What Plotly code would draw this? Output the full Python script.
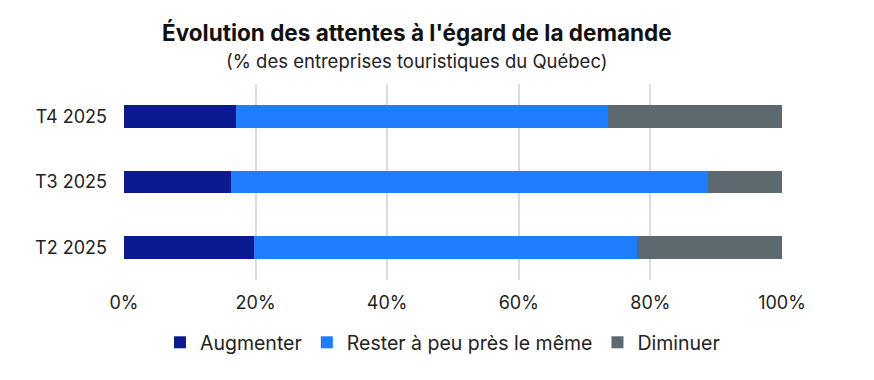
import plotly.graph_objects as go

categories = ["T2 2025", "T3 2025", "T4 2025"]
augmenter = [19.8, 16.3, 17.0]
rester = [58.2, 72.5, 56.5]
diminuer = [22.0, 11.2, 26.5]
tick_vals = [0, 20, 40, 60, 80, 100]
tick_text = ["0%", "20%", "40%", "60%", "80%", "100%"]

FONT = "Inter"
fig = go.Figure()
for name, vals, color in [
    ("Augmenter", augmenter, "#0B1A8F"),
    ("Rester à peu près le même", rester, "#1F7DFF"),
    ("Diminuer", diminuer, "#5E696F"),
]:
    fig.add_trace(go.Bar(
        y=categories, x=vals, name=name, orientation="h",
        marker=dict(color=color, line=dict(width=0)),
        hovertemplate="%{y}: %{x}%<extra>" + name + "</extra>",
    ))

fig.update_layout(
    barmode="stack",
    bargap=0.65,
    width=874, height=380,
    margin=dict(l=116, r=100, t=76, b=108),
    paper_bgcolor="white", plot_bgcolor="white",
    font=dict(family=FONT, size=16, color="#222222"),
    showlegend=True,
    legend=dict(orientation="h", x=0.484, xanchor="center", y=-0.22, yanchor="top",
                font=dict(size=19.5, color="#222222"), traceorder="normal",
                itemwidth=30, tracegroupgap=0),
    xaxis=dict(range=[0, 100], tickvals=tick_vals, ticktext=tick_text,
               showgrid=True, gridcolor="#DCDCDC", gridwidth=1.5,
               zeroline=False, showline=False, ticks="",
               ticklabelstandoff=10,
               tickfont=dict(size=18, color="#222222"), fixedrange=True),
    yaxis=dict(showgrid=False, zeroline=False, showline=False, ticks="",
               ticklabelstandoff=16, tickfont=dict(size=18, color="#222222"),
               fixedrange=True),
    annotations=[
        dict(text="<b>Évolution des attentes à l'égard de la demande</b>",
             xref="paper", yref="paper", x=0.445, y=1.0, yanchor="bottom",
             yshift=36, showarrow=False, font=dict(size=22.5, color="#111111")),
        dict(text="(% des entreprises touristiques du Québec)",
             xref="paper", yref="paper", x=0.445, y=1.0, yanchor="bottom",
             yshift=10, showarrow=False, font=dict(size=18.5, color="#222222")),
    ],
)
fig.write_html("out.html")
